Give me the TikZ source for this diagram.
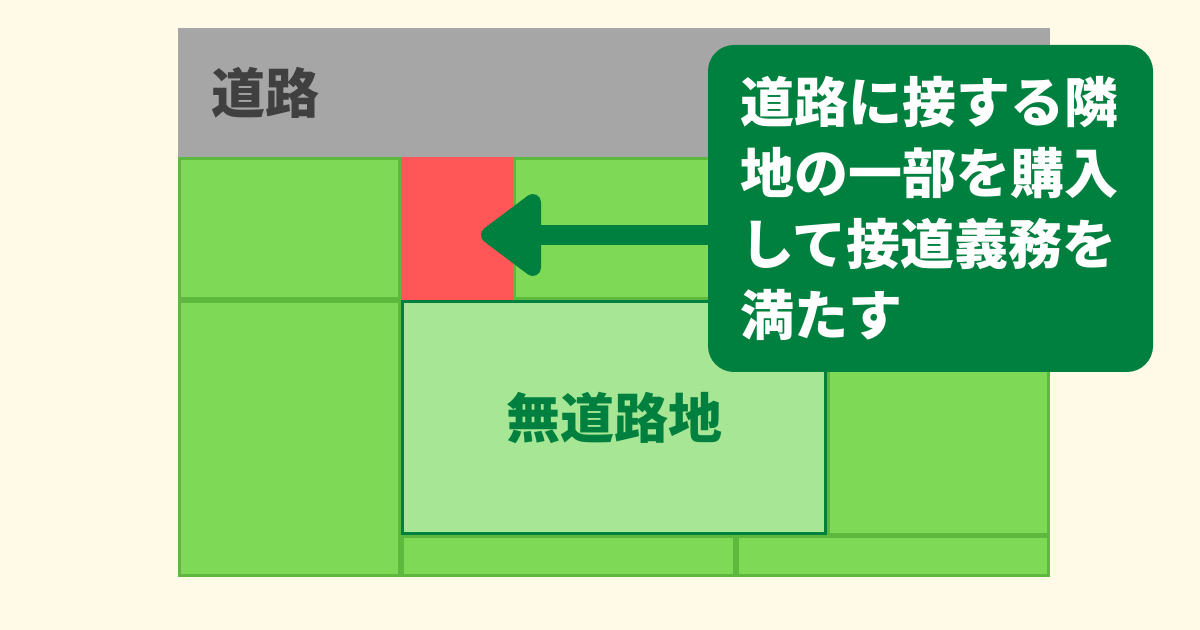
\documentclass[tikz,border=0pt]{standalone}
\usepackage{fontspec}
\usetikzlibrary{arrows.meta}
\newfontfamily\jpfont{Noto Sans CJK JP}
\newlength{\du}
\setlength{\du}{0.5pt}

\begin{document}
\begin{tikzpicture}[
  lot/.style={fill=lotgreen, draw=lotedge, line width=3\du},
  landlocked/.style={fill=palegreen, draw=darkgreen, line width=3\du, text=darkgreen,
    font=\jpfont\bfseries\fontsize{27pt}{32pt}\selectfont},
  callout/.style={fill=darkgreen, rounded corners=26\du, text=white, align=left,
    text width=190pt, minimum width=445\du, minimum height=327\du, inner sep=0pt,
    font=\jpfont\bfseries\fontsize{27pt}{35.5pt}\selectfont},
  buyarrow/.style={draw=darkgreen, line width=20\du, -{Triangle[length=33pt,width=47pt,round]}}
]
\pgftransformxscale{1.000000}
\pgftransformyscale{-1.000000}
\definecolor{bgcream}{rgb}{1.000000, 0.976000, 0.910000}
\definecolor{roadgray}{rgb}{0.650000, 0.650000, 0.650000}
\definecolor{lotgreen}{rgb}{0.494000, 0.851000, 0.341000}
\definecolor{lotedge}{rgb}{0.365000, 0.725000, 0.243000}
\definecolor{palegreen}{rgb}{0.651000, 0.902000, 0.580000}
\definecolor{darkgreen}{rgb}{0.000000, 0.502000, 0.247000}
\definecolor{buyred}{rgb}{1.000000, 0.341000, 0.341000}
\definecolor{roadtext}{rgb}{0.250000, 0.250000, 0.250000}
% background
\fill[bgcream] (0\du,0\du) rectangle (1200\du,630\du);
\useasboundingbox (0\du,0\du) rectangle (1200\du,630\du);
% road
\fill[roadgray] (178\du,28\du) rectangle (1050\du,157\du);
\node[anchor=west, text=roadtext, font=\jpfont\bfseries\fontsize{27pt}{32pt}\selectfont] (roadlabel) at (204\du,93\du){道路};
% neighbouring lots
\draw[lot] (179.5\du,158.5\du) rectangle (399.5\du,298.5\du);
\draw[lot] (514.5\du,158.5\du) rectangle (1048.5\du,298.5\du);
\draw[lot] (179.5\du,301.5\du) rectangle (399.5\du,575.5\du);
\draw[lot] (828.5\du,301.5\du) rectangle (1048.5\du,534.5\du);
\draw[lot] (402.5\du,536.5\du) rectangle (734.5\du,575.5\du);
\draw[lot] (737.5\du,536.5\du) rectangle (1048.5\du,575.5\du);
% part to be bought
\fill[buyred] (401\du,157\du) rectangle (513\du,300\du);
% landlocked lot
\node[landlocked, minimum width=423\du, minimum height=232\du] (landlot) at (614\du,417.5\du){無道路地};
% note
\node[callout] (callout) at (930.5\du,208.5\du){道路に接する隣\\地の一部を購入\\して接道義務を\\満たす};
\coordinate (buytip) at (481\du,235\du);
\draw[buyarrow] (callout.west |- buytip)--(buytip);
\end{tikzpicture}
\end{document}
